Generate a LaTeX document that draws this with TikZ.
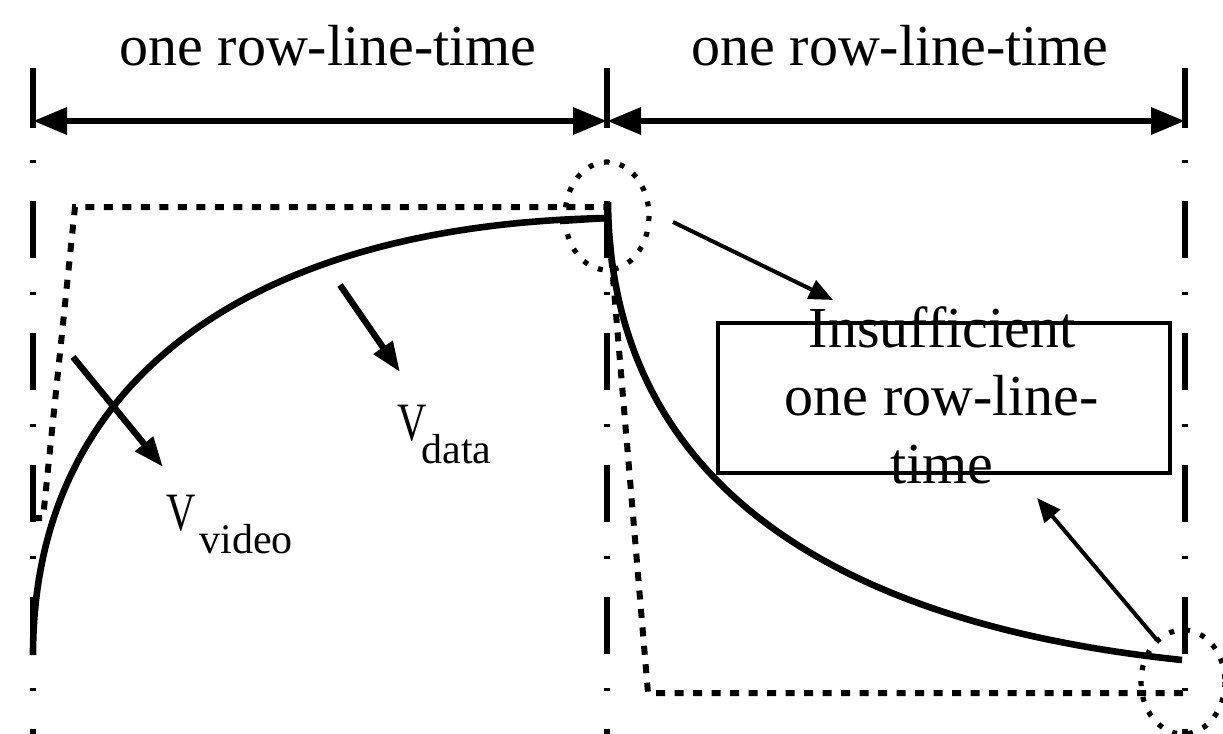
\documentclass[tikz,border=0pt]{standalone}
\usepackage{fontspec}
\setmainfont{Liberation Serif}
\usetikzlibrary{arrows.meta}
\begin{document}
\begin{tikzpicture}[x=0.5pt,y=-0.5pt,
  lbl/.style={font=\fontsize{29}{34}\selectfont, inner sep=0pt},
  vlbl/.style={font=\fontsize{27}{30}\selectfont, inner sep=0pt},
  slbl/.style={font=\fontsize{21}{24}\selectfont, inner sep=0pt},
  tickline/.style={line width=2.7pt},
  span/.style={line width=3.2pt,
    {Triangle[length=17pt,width=13pt]}-{Triangle[length=17pt,width=13pt]}},
  divider/.style={line width=2.9pt, dash pattern=on 1.5pt off 19pt on 28.5pt off 17pt},
  wave/.style={line width=3.3pt},
  dotwave/.style={line width=3pt, dash pattern=on 4.5pt off 4.75pt},
  ring/.style={line width=2.6pt, dash pattern=on 2.5pt off 5.5pt},
  fat/.style={line width=3.2pt, -{Triangle[length=15pt,width=11pt]}},
  thin/.style={line width=2pt, -{Triangle[length=12pt,width=10pt]}},
  boxed/.style={draw, line width=2.2pt, minimum width=226pt, minimum height=75pt, inner sep=0pt}
]
\useasboundingbox (0,0) rectangle (1223,734);

% tick marks and time spans
\coordinate (tLtop) at (33,68);   \coordinate (tLbot) at (33,128);
\coordinate (tMtop) at (607,68);  \coordinate (tMbot) at (607,128);
\coordinate (tRtop) at (1185,68); \coordinate (tRbot) at (1185,128);
\coordinate (tL) at (33,121); \coordinate (tM) at (607,121); \coordinate (tR) at (1185,121);
\draw[tickline] (tLtop) -- (tLbot);
\draw[tickline] (tMtop) -- (tMbot);
\draw[tickline] (tRtop) -- (tRbot);
\draw[span] (tL) -- (tM);
\draw[span] (tM) -- (tR);
\node[lbl, anchor=base] (spanA) at (328,65) {one row-line-time};
\node[lbl, anchor=base] (spanB) at (900,65) {one row-line-time};

% dash-dot period boundaries
\coordinate (dLa) at (33,160);   \coordinate (dLb) at (33,734);
\coordinate (dMa) at (607,160);  \coordinate (dMb) at (607,734);
\coordinate (dRa) at (1185,160); \coordinate (dRb) at (1185,734);
\draw[divider] (dLa) -- (dLb);
\draw[divider] (dMa) -- (dMb);
\draw[divider] (dRa) -- (dRb);

% ideal (dotted) waveform
\coordinate (w0) at (33,518);  \coordinate (w1) at (43,518);
\coordinate (w2) at (75,207);  \coordinate (w3) at (607,207);
\coordinate (w4) at (648,693); \coordinate (w5) at (1185,693);
\draw[dotwave] (w0) -- (w1) -- (w2) -- (w3) -- (w4) -- (w5);

% real (solid) waveform
\coordinate (c0) at (33,655);  \coordinate (c1) at (607,218);
\coordinate (c2) at (608,202); \coordinate (c3) at (1182,660);
\draw[wave] (c0) .. controls (33,380) and (250,225) .. (c1);
\draw[wave] (560,221) -- (c1);
\draw[wave] (c2) .. controls (610,460) and (800,620) .. (c3);

% highlight rings
\draw[ring] (607,216) ellipse [x radius=42, y radius=54];
\draw[ring] (1183,682) ellipse [x radius=42, y radius=52];

% voltage labels and arrows
\coordinate (avS) at (73,357);  \coordinate (avE) at (163,467);
\coordinate (adS) at (340,285); \coordinate (adE) at (400,372);
\draw[fat] (avS) -- (avE);
\draw[fat] (adS) -- (adE);
\node[vlbl, anchor=base west] (vv) at (166,530) {\scalebox{0.75}[1]{V}};
\node[slbl, anchor=base west] (vvs) at (199,553) {video};
\node[vlbl, anchor=base west] (vd) at (397,440) {\scalebox{0.75}[1]{V}};
\node[slbl, anchor=base west] (vds) at (421,463) {data};

% note box
\node[boxed] (box) at (944,398) {};
\node[lbl, align=center] (boxtxt) at (942,395) {Insufficient\\one row-line-\\time};
\coordinate (p1) at (673,222); \coordinate (p2) at (833,300);
\coordinate (q1) at (1157,640); \coordinate (q2) at (1037,498);
\draw[thin] (p1) -- (p2);
\draw[thin] (q1) -- (q2);
\end{tikzpicture}
\end{document}
